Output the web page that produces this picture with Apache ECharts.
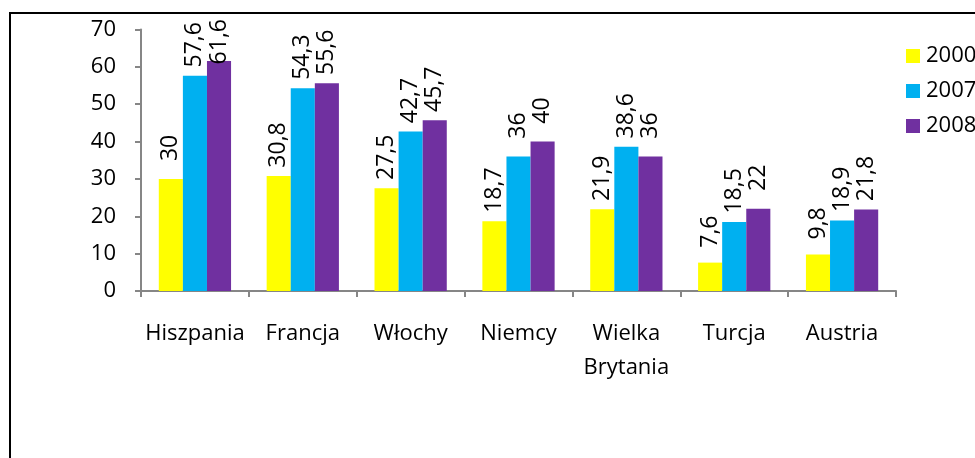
<!DOCTYPE html>
<html><head><meta charset="utf-8">
<script src="https://cdn.jsdelivr.net/npm/echarts@6/dist/echarts.min.js"></script>
<style>html,body{margin:0;padding:0;background:#fff}#c{width:975px;height:458px}</style>
</head><body><div id="c"></div>
<script>
const categories = ['Hiszpania', 'Francja', 'Włochy', 'Niemcy', 'Wielka Brytania', 'Turcja', 'Austria'];
const seriesNames = ['2000', '2007', '2008'];
const values2000 = [30, 30.8, 27.5, 18.7, 21.9, 7.6, 9.8];
const values2007 = [57.6, 54.3, 42.7, 36, 38.6, 18.5, 18.9];
const values2008 = [61.6, 55.6, 45.7, 40, 36, 22, 21.8];
const colors = ['#FFFF00', '#00B0F0', '#7030A0'];

const FONT = 'Open Sans';
const TOP_LIMIT = 19;
const chart = echarts.init(document.getElementById('c'), null, {renderer: 'canvas'});
const mk = (name, data, color) => ({
  name, type: 'bar', data,
  itemStyle: {color},
  barGap: '0%', barCategoryGap: '33%',
  label: {
    show: true, position: 'top', rotate: 90, align: 'center', verticalAlign: 'middle',
    distance: 31, color: '#000', fontFamily: FONT, fontSize: 23,
    formatter: p => String(p.value).replace('.', ',')
  },
  labelLayout: p => {
    const r = p.labelRect;
    if (r && r.y < TOP_LIMIT) {
      const len = Math.max(r.width, r.height);
      return {x: r.x + r.width / 2, y: TOP_LIMIT + len / 2};
    }
    return {};
  }
});
chart.setOption({
  animation: false,
  textStyle: {fontFamily: FONT},
  graphic: [{type: 'rect', shape: {x: 10, y: 13, width: 1100, height: 600},
    style: {fill: 'none', stroke: '#000', lineWidth: 2}, silent: true}],
  grid: {left: 141, right: 79, top: 29.5, bottom: 167, containLabel: false},
  legend: {
    orient: 'vertical', left: 906, top: 45, itemWidth: 14, itemHeight: 14, itemGap: 13,
    padding: 0, icon: 'rect', data: seriesNames,
    textStyle: {fontFamily: FONT, fontSize: 22, lineHeight: 22, color: '#000', padding: [0, 0, 0, 1]}
  },
  xAxis: {
    type: 'category', data: categories,
    axisLine: {lineStyle: {color: '#868686', width: 2}},
    axisTick: {show: true, length: 6, lineStyle: {color: '#868686', width: 2}},
    axisLabel: {color: '#000', fontFamily: FONT, fontSize: 22, margin: 26, lineHeight: 34,
      interval: 0, formatter: v => v.replace(' ', '\n')}
  },
  yAxis: {
    type: 'value', min: 0, max: 70, interval: 10,
    splitLine: {show: false},
    axisLine: {show: true, lineStyle: {color: '#868686', width: 2}},
    axisTick: {show: true, length: 6, lineStyle: {color: '#868686', width: 2}},
    axisLabel: {color: '#000', fontFamily: FONT, fontSize: 22, margin: 25}
  },
  series: [
    mk(seriesNames[0], values2000, colors[0]),
    mk(seriesNames[1], values2007, colors[1]),
    mk(seriesNames[2], values2008, colors[2])
  ]
});
</script></body></html>
